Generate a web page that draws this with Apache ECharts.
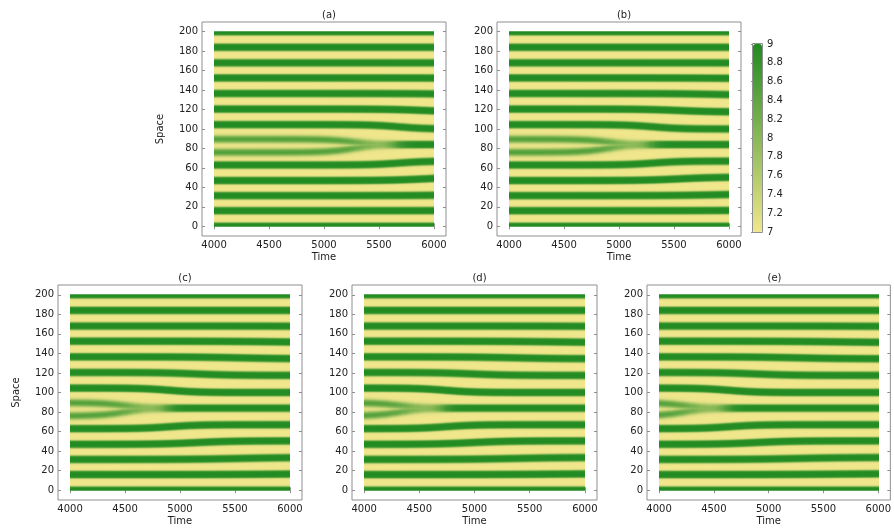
<!DOCTYPE html>
<html>
<head>
<meta charset="utf-8">
<script src="https://cdn.jsdelivr.net/npm/echarts@6/dist/echarts.min.js"></script>
<style>
  html, body { margin: 0; padding: 0; background: #ffffff; }
  #chart { width: 894px; height: 530px; }
</style>
</head>
<body>
<div id="chart"></div>
<script>
// ---- data -------------------------------------------------------------
const panelTitles = ['(a)', '(b)', '(c)', '(d)', '(e)'];
// time at which the two weak central stripes fuse into one, per panel
const mergeTimes = [5500, 5130, 4730, 4560, 4460];

// stripe centres (space units) at the start and at the end of the run
const stripeStart = [0, 16, 31.5, 47, 63, 76, 89.5, 104.5, 120.5, 136.5, 152.5, 168, 184, 200];
const stripeEnd   = [0, 17, 33.5, 50.5, 67, 84, 84, 100, 117.5, 134.5, 151, 167.5, 184, 200];
// delay (after the merge) and duration of each stripe's drift
const stripeLag   = [1500, 1200, 800, 420, 180, -230, -230, 180, 420, 800, 1200, 1500, 1500, 1500];
const stripeTau   = [300, 300, 230, 170, 130, 120, 120, 130, 170, 230, 300, 300, 300, 300];
// strength of each stripe before the merge (1 = full green)
const stripeAmp   = [1, 1, 1, 1, 1, 0.8, 0.8, 1, 1, 1, 1, 1, 1, 1];
const weakPair    = [5, 6];

const timeTicks   = [4000, 4500, 5000, 5500, 6000];
const spaceTicks  = [0, 20, 40, 60, 80, 100, 120, 140, 160, 180, 200];
const colorTicks  = [7, 7.2, 7.4, 7.6, 7.8, 8, 8.2, 8.4, 8.6, 8.8, 9];
const valueRange  = [7, 9];
const colorStops  = ['#F0E68C', '#228B22'];

// sampling of the field
const timeRange = [4000, 6000], timeStep = 10;
const spaceRange = [0, 200], spaceStep = 1;

// ---- layout -----------------------------------------------------------
const frames = [
  { left: 202, top: 22,  width: 244, height: 214 },
  { left: 497, top: 22,  width: 244, height: 214 },
  { left: 58,  top: 285, width: 244, height: 215 },
  { left: 352, top: 285, width: 245, height: 215 },
  { left: 647, top: 285, width: 245, height: 215 }
];
const xExtent = [3890, 6110];
const yExtent = [-10, 210];
const colorBar = { left: 753, top: 44, width: 9, height: 188 };

const FONT = 'DejaVu Sans';
const TEXT = '#222222';
const FRAME = '#8f8f8f';

// ---- field ------------------------------------------------------------
function logistic(x) { return 1 / (1 + Math.exp(-x)); }

function fieldValue(p, t, s) {
  const tm = mergeTimes[p];
  let m = 0;
  for (let k = 0; k < stripeStart.length; k++) {
    const f = logistic((t - tm - stripeLag[k]) / stripeTau[k]);
    const c = stripeStart[k] + (stripeEnd[k] - stripeStart[k]) * f;
    let amp = stripeAmp[k], soft = 0.45, half = 3.8;
    if (weakPair.indexOf(k) >= 0) {
      const grow = logistic((t - tm - 130) / 50);
      const fade = 0.38 * logistic((t - tm + 150) / 80);
      amp = stripeAmp[k] - fade + (1 - stripeAmp[k] + fade) * grow;
      soft = 1.0 - 0.55 * grow;
      half = 3.3 + 0.5 * grow;
    }
    const v = amp / (1 + Math.exp((Math.abs(s - c) - half) / soft));
    if (v > m) m = v;
  }
  return valueRange[0] + (valueRange[1] - valueRange[0]) * m;
}

const timeSamples = [];
for (let t = timeRange[0]; t <= timeRange[1] + 1e-9; t += timeStep) timeSamples.push(t);
const spaceSamples = [];
for (let s = spaceRange[0]; s <= spaceRange[1] + 1e-9; s += spaceStep) spaceSamples.push(s);

// one column of field values per time sample
function panelColumns(p) {
  return timeSamples.map(t => spaceSamples.map(s => fieldValue(p, t, s)));
}

// ---- option -----------------------------------------------------------
const chart = echarts.init(document.getElementById('chart'), null, { renderer: 'canvas' });

const labelStyle = { color: TEXT, fontFamily: FONT, fontSize: 10 };
const plain = v => String(v);

const grids = frames.map(f => ({
  left: f.left, top: f.top, width: f.width, height: f.height,
  show: true, borderColor: FRAME, borderWidth: 1, backgroundColor: 'transparent'
}));
grids.push({ left: colorBar.left, top: colorBar.top, width: colorBar.width, height: colorBar.height, show: false });

const xAxis = [], yAxis = [];
frames.forEach((f, i) => {
  const tick = { show: true, inside: true, length: 3, lineStyle: { color: FRAME } };
  xAxis.push({
    type: 'value', gridIndex: i, min: xExtent[0], max: xExtent[1], position: 'bottom',
    name: 'Time', nameLocation: 'middle', nameGap: 16, nameTextStyle: labelStyle,
    axisLine: { show: false }, splitLine: { show: false },
    axisTick: Object.assign({ customValues: timeTicks }, tick),
    axisLabel: Object.assign({ customValues: timeTicks, margin: 4, formatter: plain }, labelStyle)
  });
  xAxis.push({
    type: 'value', gridIndex: i, min: xExtent[0], max: xExtent[1], position: 'top',
    axisLine: { show: false }, splitLine: { show: false }, axisLabel: { show: false },
    axisTick: Object.assign({ customValues: timeTicks }, tick)
  });
  yAxis.push({
    type: 'value', gridIndex: i, min: yExtent[0], max: yExtent[1], position: 'left',
    name: (i === 0 || i === 2) ? 'Space' : '', nameLocation: 'middle', nameGap: 37,
    nameTextStyle: labelStyle,
    axisLine: { show: false }, splitLine: { show: false },
    axisTick: Object.assign({ customValues: spaceTicks }, tick),
    axisLabel: Object.assign({ customValues: spaceTicks, margin: 4, formatter: plain }, labelStyle)
  });
  yAxis.push({
    type: 'value', gridIndex: i, min: yExtent[0], max: yExtent[1], position: 'right',
    axisLine: { show: false }, splitLine: { show: false }, axisLabel: { show: false },
    axisTick: Object.assign({ customValues: spaceTicks }, tick)
  });
});
// colour bar scale
xAxis.push({ type: 'value', gridIndex: frames.length, show: false });
yAxis.push({
  type: 'value', gridIndex: frames.length, min: valueRange[0], max: valueRange[1], position: 'right',
  axisLine: { show: false }, splitLine: { show: false },
  axisTick: { show: true, inside: true, length: 2, customValues: colorTicks, lineStyle: { color: FRAME } },
  axisLabel: Object.assign({ customValues: colorTicks, margin: 5, formatter: plain }, labelStyle)
});

// each time column is one whole-pixel rect, shaded top to bottom by its field values
function makeSeries(p) {
  const columns = panelColumns(p);
  const halfT = timeStep / 2, halfS = spaceStep / 2;
  return {
    type: 'custom', xAxisIndex: p * 2, yAxisIndex: p * 2, silent: true,
    data: timeSamples.map(t => [t, (spaceRange[0] + spaceRange[1]) / 2]),
    encode: { x: 0, y: 1 },
    renderItem: function (params, api) {
      const t = api.value(0);
      const a = api.coord([t - halfT, spaceRange[1] + halfS]);
      const b = api.coord([t + halfT, spaceRange[0] - halfS]);
      const h = b[1] - a[1];
      const x0 = Math.round(a[0]);
      const x1 = Math.max(x0 + 1, Math.round(b[0]));
      const col = columns[params.dataIndex];
      const stops = spaceSamples.map((s, j) => ({
        offset: Math.min(1, Math.max(0, (api.coord([t, s])[1] - a[1]) / h)),
        color: echarts.color.lerp((col[j] - valueRange[0]) / (valueRange[1] - valueRange[0]), colorStops)
      })).sort((u, v) => u.offset - v.offset);
      return {
        type: 'rect',
        shape: { x: x0, y: a[1], width: x1 - x0, height: h },
        style: { fill: new echarts.graphic.LinearGradient(0, 0, 0, 1, stops) }
      };
    }
  };
}

const series = frames.map((f, i) => makeSeries(i));

const titles = frames.map((f, i) => ({
  text: panelTitles[i], left: f.left + f.width / 2, top: f.top - 17, textAlign: 'center',
  textStyle: { color: TEXT, fontFamily: FONT, fontSize: 10, fontWeight: 'normal' }
}));

chart.setOption({
  animation: false,
  textStyle: { fontFamily: FONT },
  title: titles,
  grid: grids,
  xAxis: xAxis,
  yAxis: yAxis,
  visualMap: {
    type: 'continuous', min: valueRange[0], max: valueRange[1], seriesIndex: [],
    calculable: false, orient: 'vertical', left: colorBar.left, top: colorBar.top,
    itemWidth: colorBar.width, itemHeight: colorBar.height, padding: 0, text: null,
    showLabel: false, inRange: { color: colorStops }, hoverLink: false
  },
  series: series,
  graphic: [{
    type: 'rect', silent: true, z: 100,
    shape: { x: colorBar.left - 0.5, y: colorBar.top - 0.5, width: colorBar.width + 1, height: colorBar.height + 1 },
    style: { fill: 'none', stroke: FRAME, lineWidth: 1 }
  }]
});
</script>
</body>
</html>
